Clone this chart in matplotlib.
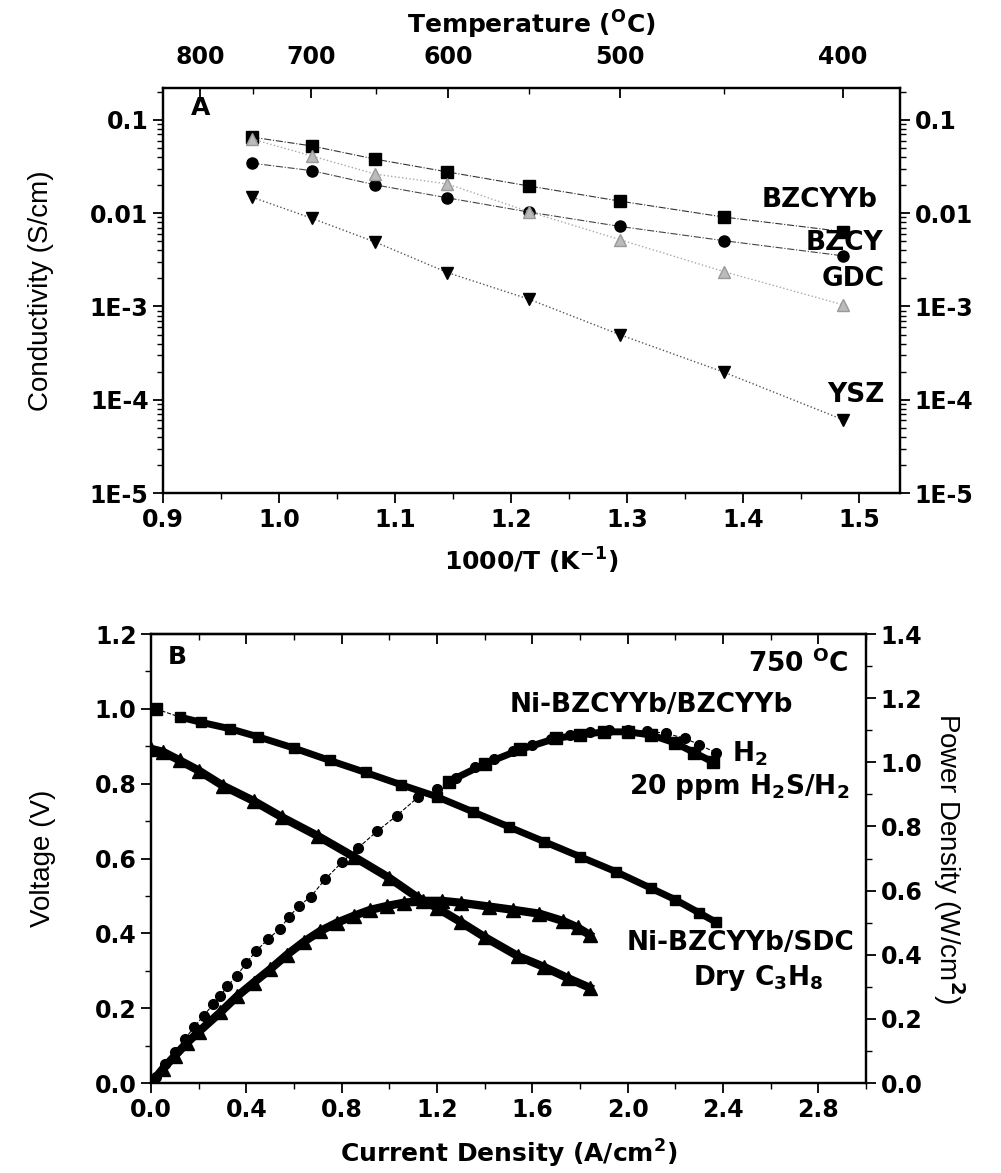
import numpy as np
import matplotlib.pyplot as plt
from matplotlib.ticker import FixedLocator, NullFormatter, MultipleLocator

plt.rcParams['font.family'] = ['DejaVu Sans']
plt.rcParams['mathtext.fontset'] = 'custom'
plt.rcParams['mathtext.rm'] = 'DejaVu Sans:bold'
plt.rcParams['mathtext.bf'] = 'DejaVu Sans:bold'
plt.rcParams['mathtext.it'] = 'DejaVu Sans:bold'
plt.rcParams['axes.linewidth'] = 1.6

# Partie A : conductivite vs 1000/T
inv_t = [0.977, 1.028, 1.083, 1.145, 1.215, 1.294, 1.383, 1.486]
bzcyyb = [0.0653, 0.0526, 0.0379, 0.0277, 0.0196, 0.01345, 0.0091, 0.00635]
bzcy = [0.0343, 0.0286, 0.0201, 0.0146, 0.0103, 0.0072, 0.00508, 0.00349]
gdc = [0.0621, 0.0411, 0.0262, 0.0206, 0.0104, 0.00518, 0.00237, 0.00104]
ysz = [0.0148, 0.00883, 0.00489, 0.00231, 0.0012, 0.000496, 0.000198, 6.1e-5]
temp_ticks = [800, 700, 600, 500, 400]
temp_minor = [750, 650, 550, 450]
cond_ticks = [1e-5, 1e-4, 1e-3, 1e-2, 1e-1]
cond_labels = ['1E-5', '1E-4', '1E-3', '0.01', '0.1']

# Partie B : courbes I-V-P a 750 C
h2_i_v = [0.02, 0.12, 0.21, 0.33, 0.45, 0.6, 0.75, 0.9, 1.05, 1.2, 1.35, 1.5,
          1.65, 1.8, 1.95, 2.1, 2.2, 2.3, 2.37]
h2_v = [1.00, 0.978, 0.964, 0.947, 0.925, 0.895, 0.862, 0.83, 0.797, 0.765,
        0.725, 0.685, 0.645, 0.605, 0.565, 0.52, 0.49, 0.455, 0.43]
h2_i_p = [0.02, 0.06, 0.10, 0.14, 0.18, 0.22, 0.26, 0.29, 0.32, 0.36, 0.40,
          0.44, 0.49, 0.54, 0.58, 0.62, 0.67, 0.73, 0.80, 0.87, 0.95, 1.03,
          1.12, 1.2, 1.28, 1.36, 1.44, 1.52, 1.6, 1.68, 1.76, 1.84, 1.92, 2.0,
          2.08, 2.16, 2.24, 2.3, 2.37]
h2_p = [0.02, 0.06, 0.098, 0.136, 0.174, 0.21, 0.245, 0.272, 0.302, 0.335,
        0.375, 0.411, 0.448, 0.481, 0.519, 0.552, 0.581, 0.635, 0.688, 0.734,
        0.786, 0.833, 0.891, 0.918, 0.95, 0.985, 1.01, 1.035, 1.055, 1.072,
        1.085, 1.095, 1.1, 1.1, 1.098, 1.09, 1.075, 1.055, 1.03]
h2s_i_p = [1.25, 1.4, 1.55, 1.7, 1.8, 1.9, 2.0, 2.1, 2.2, 2.28, 2.36]
h2s_p = [0.94, 0.995, 1.04, 1.075, 1.085, 1.095, 1.095, 1.085, 1.06, 1.03, 1.0]
c3h8_i_v = [0.0, 0.05, 0.12, 0.2, 0.3, 0.43, 0.55, 0.7, 0.85, 1.0, 1.12, 1.2,
            1.3, 1.4, 1.54, 1.65, 1.75, 1.84]
c3h8_v = [0.893, 0.885, 0.862, 0.835, 0.795, 0.754, 0.71, 0.66, 0.605, 0.548,
          0.495, 0.468, 0.43, 0.39, 0.339, 0.31, 0.28, 0.255]
c3h8_i_p = [0.0, 0.05, 0.10, 0.15, 0.2, 0.29, 0.36, 0.43, 0.5, 0.57, 0.64,
            0.71, 0.78, 0.85, 0.92, 0.99, 1.06, 1.14, 1.22, 1.3, 1.42, 1.52,
            1.63, 1.73, 1.79, 1.84]
c3h8_p = [0.0, 0.045, 0.085, 0.125, 0.16, 0.22, 0.27, 0.313, 0.355, 0.4, 0.44,
          0.474, 0.5, 0.521, 0.54, 0.552, 0.562, 0.568, 0.568, 0.562, 0.55,
          0.54, 0.528, 0.505, 0.485, 0.462]

fig = plt.figure(figsize=(10.01, 11.73), dpi=100)
tick_font = dict(fontsize=17, fontweight='bold')
lab_font = dict(fontsize=20, family=['Liberation Sans Narrow', 'Liberation Sans'])
note_font = dict(fontsize=19, fontweight='bold')

# ---------------- Panel A ----------------
axa = fig.add_axes([0.163, 0.5797, 0.736, 0.3453])
axa.set_yscale('log')
axa.plot(inv_t, bzcyyb, color='#333333', ls='-.', lw=0.8, marker='s', ms=8, mfc='black', mec='black')
axa.plot(inv_t, bzcy, color='#444444', ls='-.', lw=0.8, marker='o', ms=8, mfc='black', mec='black')
axa.plot(inv_t, gdc, color='#aaaaaa', ls=':', lw=1.0, marker='^', ms=8, mfc='#bbbbbb', mec='#999999')
axa.plot(inv_t, ysz, color='#555555', ls=':', lw=1.0, marker='v', ms=9, mfc='black', mec='black')
axa.set_xlim(0.9, 1.535)
axa.set_ylim(1e-5, 0.22)
axa.set_xticks([0.9, 1.0, 1.1, 1.2, 1.3, 1.4, 1.5])
axa.set_xticklabels(['0.9', '1.0', '1.1', '1.2', '1.3', '1.4', '1.5'], **tick_font)
axa.xaxis.set_minor_locator(MultipleLocator(0.05))
axa.yaxis.set_major_locator(FixedLocator(cond_ticks))
axa.set_yticklabels(cond_labels, **tick_font)
axa.yaxis.set_minor_locator(FixedLocator([m * 10.0 ** e for e in range(-5, 0) for m in range(2, 10)]))
axa.yaxis.set_minor_formatter(NullFormatter())
axa.tick_params(axis='y', which='both', direction='out', left=True, right=True, labelleft=True, labelright=True)
axa.tick_params(axis='both', which='major', length=7, width=1.3)
axa.tick_params(axis='both', which='minor', length=4, width=1.0)
axa.tick_params(axis='x', which='both', direction='out')
for lab in axa.get_yticklabels(which='both'):
    lab.set_fontweight('bold')
axa.set_xlabel('1000/T (K$^{-1}$)', fontsize=18, fontweight='bold', labelpad=10)
axa.set_ylabel('Conductivity (S/cm)', labelpad=26, **lab_font)

axt = axa.twiny()
axt.set_xlim(axa.get_xlim())
axt.set_xticks([1000.0 / (t + 273.0) for t in temp_ticks])
axt.set_xticklabels([str(t) for t in temp_ticks], **tick_font)
axt.set_xticks([1000.0 / (t + 273.0) for t in temp_minor], minor=True)
axt.tick_params(axis='x', which='both', direction='in', pad=14)
axt.tick_params(axis='x', which='major', length=7, width=1.3)
axt.tick_params(axis='x', which='minor', length=4, width=1.0)
axt.set_xlabel('Temperature ($^{O}$C)', fontsize=18, fontweight='bold', labelpad=8)

axa.text(0.932, 0.135, 'A', fontsize=18, fontweight='bold', ha='center', va='center')
axa.text(1.466, 0.0139, 'BZCYYb', ha='center', va='center', **note_font)
axa.text(1.487, 0.0048, 'BZCY', ha='center', va='center', **note_font)
axa.text(1.495, 0.00196, 'GDC', ha='center', va='center', **note_font)
axa.text(1.497, 1.13e-4, 'YSZ', ha='center', va='center', **note_font)

# ---------------- Panel B ----------------
axb = fig.add_axes([0.151, 0.0767, 0.714, 0.3828])
axp = axb.twinx()
axb.plot(h2_i_v[:2], h2_v[:2], color='black', lw=0.8, ls='--')
axb.plot(h2_i_v[:1], h2_v[:1], color='black', ls='none', marker='s', ms=8)
axb.plot(h2_i_v[1:], h2_v[1:], color='black', lw=5, marker='s', ms=7, ls='-')
axb.plot(c3h8_i_v, c3h8_v, color='black', lw=6, marker='^', ms=10, ls='-')
axp.plot(h2_i_p, h2_p, color='black', lw=0.8, ls='--', marker='o', ms=7)
axp.plot(h2s_i_p, h2s_p, color='black', lw=5, marker='s', ms=8)
axp.plot(c3h8_i_p, c3h8_p, color='black', lw=6, marker='^', ms=10, ls='-')

axb.set_xlim(0, 3.0)
axb.set_ylim(0, 1.2)
axp.set_ylim(0, 1.4)
axb.set_xticks(np.arange(0, 3.0, 0.4))
axb.set_xticklabels(['%.1f' % v for v in np.arange(0, 3.0, 0.4)], **tick_font)
axb.xaxis.set_minor_locator(MultipleLocator(0.2))
axb.set_yticks(np.arange(0, 1.21, 0.2))
axb.set_yticklabels(['%.1f' % v for v in np.arange(0, 1.21, 0.2)], **tick_font)
axb.yaxis.set_minor_locator(MultipleLocator(0.1))
axp.set_yticks(np.arange(0, 1.41, 0.2))
axp.set_yticklabels(['%.1f' % v for v in np.arange(0, 1.41, 0.2)], **tick_font)
axp.yaxis.set_minor_locator(MultipleLocator(0.1))
for a in (axb, axp):
    a.tick_params(axis='both', which='both', direction='out')
    a.tick_params(axis='both', which='major', length=7, width=1.3)
    a.tick_params(axis='both', which='minor', length=4, width=1.0)
topb = axb.secondary_xaxis('top')
topb.set_xticks(np.arange(0, 3.0, 0.4))
topb.xaxis.set_minor_locator(MultipleLocator(0.2))
topb.tick_params(axis='x', which='both', direction='in', labeltop=False)
topb.tick_params(axis='x', which='major', length=7, width=1.3)
topb.tick_params(axis='x', which='minor', length=4, width=1.0)

axb.set_xlabel('Current Density (A/cm$^{2}$)', fontsize=18, fontweight='bold', labelpad=12)
axb.set_ylabel('Voltage (V)', labelpad=28, **lab_font)
axp.set_ylabel('Power Density (W/cm$^{2}$)', rotation=270, labelpad=32, **lab_font)

axb.text(0.109, 1.138, 'B', fontsize=18, fontweight='bold', ha='center', va='center')
axb.text(2.93, 1.12, '750 $^{O}$C', ha='right', va='center', **note_font)
axb.text(2.1, 1.01, 'Ni-BZCYYb/BZCYYb', ha='center', va='center', **note_font)
axb.text(2.44, 0.88, 'H$_{2}$', ha='left', va='center', **note_font)
axb.text(2.93, 0.79, '20 ppm H$_{2}$S/H$_{2}$', ha='right', va='center', **note_font)
axb.text(2.95, 0.373, 'Ni-BZCYYb/SDC', ha='right', va='center', **note_font)
axb.text(2.55, 0.28, 'Dry C$_{3}$H$_{8}$', ha='center', va='center', **note_font)

fig.savefig('out.png', dpi=100)
